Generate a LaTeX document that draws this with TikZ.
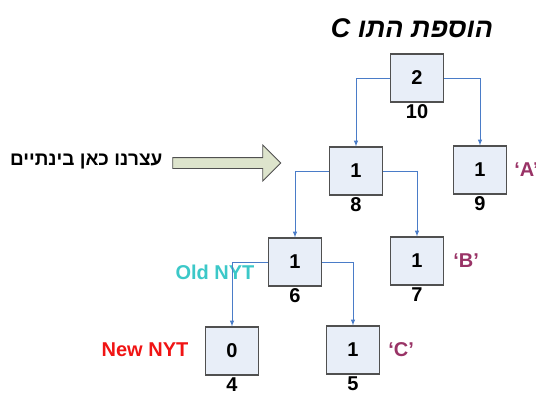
\documentclass[tikz,border=0pt]{standalone}
\usepackage{fontspec}
\setmainfont{Liberation Sans}
\newfontfamily\hebfont[Script=Hebrew]{Liberation Sans}
\TeXXeTstate=1
\usepackage{tikz}
\usetikzlibrary{arrows,shapes,positioning}
\usepackage{xcolor}
\definecolor{hfblue}{RGB}{74,124,200}
\definecolor{hfgray}{RGB}{80,80,80}
\definecolor{hffill}{RGB}{232,238,248}
\definecolor{hfpurple}{RGB}{153,51,102}
\definecolor{hfteal}{RGB}{60,200,200}
\definecolor{hfred}{RGB}{240,20,20}
\definecolor{hfolive}{RGB}{221,228,204}
\tikzstyle{arrow} = [line width=1pt,->,>=latex,color=hfblue]
\tikzstyle{treenode} = [rectangle, minimum width=53pt, minimum height=48pt, inner sep=0pt, draw=hfgray, fill=hffill, line width=1.2pt, font=\bfseries\fontsize{20}{20}\selectfont]
\tikzstyle{idlabel} = [inner sep=0pt, font=\bfseries\fontsize{20}{20}\selectfont]
\tikzstyle{symlabel} = [idlabel, anchor=west, color=hfpurple]

\begin{document}
\begin{tikzpicture}[x=1pt, y=-1pt]
\useasboundingbox (0,0) rectangle (536,394);

% Title
\node[font=\hebfont\bfseries\itshape\fontsize{27}{27}\selectfont] (title) at (412,28) {\beginR הוספת התו C\endR};

% Where we stopped
\node[font=\hebfont\bfseries\fontsize{19}{19}\selectfont, anchor=east] (stoptext) at (166,162) {\beginR עצרנו כאן בינתיים\endR};
\node[single arrow, draw=hfgray, fill=hfolive, thick, minimum height=108pt, minimum width=35pt, single arrow head extend=12.5pt, inner sep=5pt] (stoparrow) at (224,163) {};

% NYT labels
\node[idlabel, color=hfteal] (oldnyt) at (215,272) {Old NYT};
\node[idlabel, color=hfred] (newnyt) at (145,350) {New NYT};

% Tree nodes
\node[treenode] (root) at (417,78) {2};
\node[treenode] (n8) at (356,171) {1};
\node[treenode] (n9) at (480,170) {1};
\node[treenode] (n6) at (295,262) {1};
\node[treenode] (n7) at (417,261) {1};
\node[treenode] (n4) at (232,351) {0};
\node[treenode] (n5) at (353,350) {1};

% Node numbers
\node[idlabel, below=1.5pt of root] (root-id) {10};
\node[idlabel, below=1.5pt of n8] (n8-id) {8};
\node[idlabel, below=1.5pt of n9] (n9-id) {9};
\node[idlabel, below=1.5pt of n6] (n6-id) {6};
\node[idlabel, below=1.5pt of n7] (n7-id) {7};
\node[idlabel, below=1.5pt of n4] (n4-id) {4};
\node[idlabel, below=1.5pt of n5] (n5-id) {5};

% Symbols
\node[symlabel, right=7pt of n9] (symA) {`A'};
\node[symlabel, right=9pt of n7] (symB) {`B'};
\node[symlabel, right=8pt of n5] (symC) {`C'};

% Edges
\draw[arrow] (root.west) -| (n8.north);
\draw[arrow] (root.east) -| (n9.north);
\draw[arrow] (n8.west) -| (n6.north);
\draw[arrow] (n8.east) -| (n7.north);
\draw[arrow] (n6.west) -| (n4.north);
\draw[arrow] (n6.east) -| (n5.north);
\end{tikzpicture}
\end{document}
